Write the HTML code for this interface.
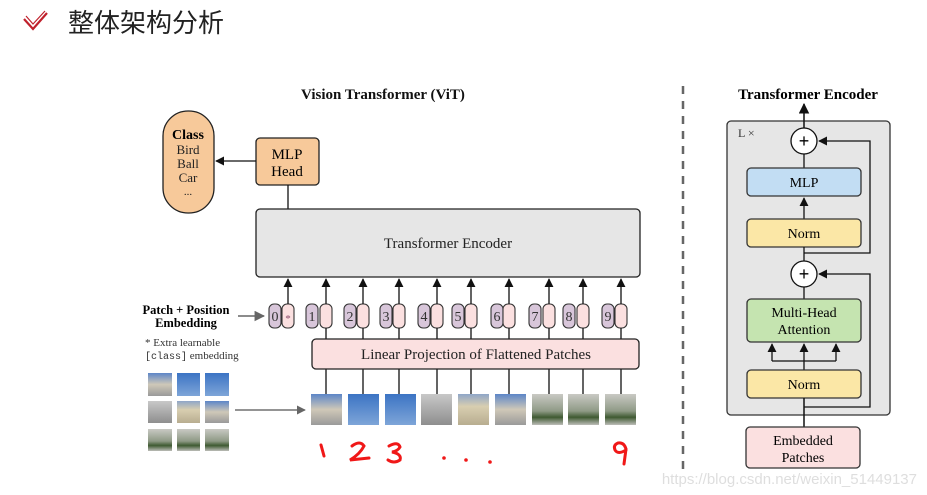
<!DOCTYPE html>
<html><head><meta charset="utf-8"><style>
html,body{margin:0;padding:0;background:#fff;}
svg{display:block;}
.s{font-family:"Liberation Serif",serif;}
</style></head><body>
<svg width="927" height="495" viewBox="0 0 927 495" xmlns="http://www.w3.org/2000/svg">
<defs>
<marker id="ar" viewBox="0 0 10 10" refX="9" refY="5" markerWidth="7" markerHeight="7" orient="auto"><path d="M0,0L10,5L0,10z" fill="#111"/></marker>
<marker id="ag" viewBox="0 0 10 10" refX="9" refY="5" markerWidth="7" markerHeight="7" orient="auto"><path d="M0,0L10,5L0,10z" fill="#666"/></marker>
<linearGradient id="sky" x1="0" y1="0" x2="0" y2="1"><stop offset="0" stop-color="#3c74c4"/><stop offset="1" stop-color="#7ea5d8"/></linearGradient>
<linearGradient id="bld" x1="0" y1="0" x2="0" y2="1"><stop offset="0" stop-color="#c8c8c8"/><stop offset="1" stop-color="#8e8e8e"/></linearGradient>
<linearGradient id="mix" x1="0" y1="0" x2="0" y2="1"><stop offset="0" stop-color="#5d86c8"/><stop offset="0.5" stop-color="#cfc8b8"/><stop offset="1" stop-color="#9a9a9a"/></linearGradient>
<linearGradient id="tan" x1="0" y1="0" x2="0" y2="1"><stop offset="0" stop-color="#8fa6c8"/><stop offset="0.4" stop-color="#d8ceb0"/><stop offset="1" stop-color="#b8ad90"/></linearGradient>
<linearGradient id="grn" x1="0" y1="0" x2="0" y2="1"><stop offset="0" stop-color="#c9c9c4"/><stop offset="0.55" stop-color="#8f9a86"/><stop offset="0.75" stop-color="#3f5a32"/><stop offset="1" stop-color="#bdbdb8"/></linearGradient>
</defs>

<path d="M24,19 L33,29 L47,13" fill="none" stroke="#c0212c" stroke-width="2.2"/>
<path d="M26,16 L33,24 L45,11" fill="none" stroke="#c0212c" stroke-width="1.2"/>
<text x="68" y="32" font-family="'Liberation Sans','Noto Sans CJK SC',sans-serif" font-size="26" fill="#222">整体架构分析</text>

<text class="s" x="383" y="99" text-anchor="middle" font-size="15" font-weight="bold" fill="#111">Vision Transformer (ViT)</text>

<rect x="163" y="111" width="51" height="102" rx="25" fill="#f7c99a" stroke="#222" stroke-width="1.3"/>
<text class="s" x="188" y="139" text-anchor="middle" font-size="14" font-weight="bold">Class</text>
<text class="s" x="188" y="154" text-anchor="middle" font-size="13" fill="#222">Bird</text>
<text class="s" x="188" y="168" text-anchor="middle" font-size="13" fill="#222">Ball</text>
<text class="s" x="188" y="182" text-anchor="middle" font-size="13" fill="#222">Car</text>
<text class="s" x="188" y="195" text-anchor="middle" font-size="11" fill="#222">...</text>

<rect x="256" y="138" width="63" height="47" rx="4" fill="#f7c99a" stroke="#222" stroke-width="1.3"/>
<text class="s" x="287" y="159" text-anchor="middle" font-size="15">MLP</text>
<text class="s" x="287" y="176" text-anchor="middle" font-size="15">Head</text>
<line x1="256" y1="161" x2="216" y2="161" stroke="#111" stroke-width="1.3" marker-end="url(#ar)"/>
<line x1="288" y1="185" x2="288" y2="209" stroke="#111" stroke-width="1.3"/>

<rect x="256" y="209" width="384" height="68" rx="4" fill="#e6e6e6" stroke="#222" stroke-width="1.3"/>
<text class="s" x="448" y="248" text-anchor="middle" font-size="15" fill="#222">Transformer Encoder</text>

<g stroke="#333" stroke-width="1.1">
<g fill="#d8c6da"><rect x="269" y="304" width="12" height="24" rx="5"/><rect x="306" y="304" width="12" height="24" rx="5"/><rect x="344" y="304" width="12" height="24" rx="5"/><rect x="380" y="304" width="12" height="24" rx="5"/><rect x="418" y="304" width="12" height="24" rx="5"/><rect x="452" y="304" width="12" height="24" rx="5"/><rect x="491" y="304" width="12" height="24" rx="5"/><rect x="529" y="304" width="12" height="24" rx="5"/><rect x="563" y="304" width="12" height="24" rx="5"/><rect x="602" y="304" width="12" height="24" rx="5"/></g>
<g fill="#fbe0e0"><rect x="282" y="304" width="12" height="24" rx="5"/><rect x="320" y="304" width="12" height="24" rx="5"/><rect x="357" y="304" width="12" height="24" rx="5"/><rect x="393" y="304" width="12" height="24" rx="5"/><rect x="431" y="304" width="12" height="24" rx="5"/><rect x="465" y="304" width="12" height="24" rx="5"/><rect x="503" y="304" width="12" height="24" rx="5"/><rect x="543" y="304" width="12" height="24" rx="5"/><rect x="577" y="304" width="12" height="24" rx="5"/><rect x="615" y="304" width="12" height="24" rx="5"/></g>
</g>
<g class="s" font-size="14" fill="#333" text-anchor="middle">
<text x="275" y="321">0</text><text x="312" y="321">1</text><text x="350" y="321">2</text><text x="386" y="321">3</text><text x="424" y="321">4</text><text x="458" y="321">5</text><text x="497" y="321">6</text><text x="535" y="321">7</text><text x="569" y="321">8</text><text x="608" y="321">9</text>
<text x="288" y="322" font-size="11" fill="#8a4a6a">*</text>
</g>
<g stroke="#111" stroke-width="1.3" marker-end="url(#ar)">
<line x1="288" y1="304" x2="288" y2="279"/><line x1="326" y1="304" x2="326" y2="279"/><line x1="363" y1="304" x2="363" y2="279"/><line x1="399" y1="304" x2="399" y2="279"/><line x1="437" y1="304" x2="437" y2="279"/><line x1="471" y1="304" x2="471" y2="279"/><line x1="509" y1="304" x2="509" y2="279"/><line x1="549" y1="304" x2="549" y2="279"/><line x1="583" y1="304" x2="583" y2="279"/><line x1="621" y1="304" x2="621" y2="279"/>
</g>
<g stroke="#111" stroke-width="1.3">
<line x1="326" y1="328" x2="326" y2="339"/><line x1="363" y1="328" x2="363" y2="339"/><line x1="399" y1="328" x2="399" y2="339"/><line x1="437" y1="328" x2="437" y2="339"/><line x1="471" y1="328" x2="471" y2="339"/><line x1="509" y1="328" x2="509" y2="339"/><line x1="549" y1="328" x2="549" y2="339"/><line x1="583" y1="328" x2="583" y2="339"/><line x1="621" y1="328" x2="621" y2="339"/>
<line x1="326" y1="369" x2="326" y2="394"/><line x1="363" y1="369" x2="363" y2="394"/><line x1="399" y1="369" x2="399" y2="394"/><line x1="437" y1="369" x2="437" y2="394"/><line x1="471" y1="369" x2="471" y2="394"/><line x1="509" y1="369" x2="509" y2="394"/><line x1="549" y1="369" x2="549" y2="394"/><line x1="583" y1="369" x2="583" y2="394"/><line x1="621" y1="369" x2="621" y2="394"/>
</g>

<rect x="312" y="339" width="327" height="30" rx="4" fill="#fbe0e0" stroke="#222" stroke-width="1.3"/>
<text class="s" x="476" y="359" text-anchor="middle" font-size="15" fill="#222">Linear Projection of Flattened Patches</text>

<text class="s" x="186" y="314" text-anchor="middle" font-size="12.5" font-weight="bold">Patch + Position</text>
<text class="s" x="186" y="327" text-anchor="middle" font-size="12.5" font-weight="bold">Embedding</text>
<line x1="238" y1="316" x2="264" y2="316" stroke="#666" stroke-width="1.5" marker-end="url(#ag)"/>
<text class="s" x="145" y="346" font-size="11" fill="#333">* Extra learnable</text>
<text x="145" y="359" font-size="10" fill="#333"><tspan font-family="'Liberation Mono',monospace">[class]</tspan><tspan font-family="'Liberation Serif',serif" font-size="11"> embedding</tspan></text>

<rect x="148" y="373" width="24" height="23" fill="url(#mix)"/><rect x="177" y="373" width="23" height="23" fill="url(#sky)"/><rect x="205" y="373" width="24" height="23" fill="url(#sky)"/>
<rect x="148" y="401" width="24" height="22" fill="url(#bld)"/><rect x="177" y="401" width="23" height="22" fill="url(#tan)"/><rect x="205" y="401" width="24" height="22" fill="url(#mix)"/>
<rect x="148" y="429" width="24" height="22" fill="url(#grn)"/><rect x="177" y="429" width="23" height="22" fill="url(#grn)"/><rect x="205" y="429" width="24" height="22" fill="url(#grn)"/>
<line x1="235" y1="410" x2="305" y2="410" stroke="#555" stroke-width="1.3" marker-end="url(#ag)"/>

<rect x="311" y="394" width="31" height="31" fill="url(#mix)"/>
<rect x="348" y="394" width="31" height="31" fill="url(#sky)"/>
<rect x="385" y="394" width="31" height="31" fill="url(#sky)"/>
<rect x="421" y="394" width="31" height="31" fill="url(#bld)"/>
<rect x="458" y="394" width="31" height="31" fill="url(#tan)"/>
<rect x="495" y="394" width="31" height="31" fill="url(#mix)"/>
<rect x="532" y="394" width="31" height="31" fill="url(#grn)"/>
<rect x="568" y="394" width="31" height="31" fill="url(#grn)"/>
<rect x="605" y="394" width="31" height="31" fill="url(#grn)"/>

<g stroke="#f01818" stroke-width="3" fill="none" stroke-linecap="round">
<path d="M321,445 L324,456"/>
<path d="M352,446 Q360,440 364,446 Q360,454 350,460 L369,458"/>
<path d="M389,446 Q398,441 400,447 Q398,451 392,452 Q402,454 400,460 Q394,464 388,460"/>
<path d="M626,449 Q624,442 618,443 Q613,445 615,450 Q618,455 626,450 M626,449 L624,464"/>
</g>
<g fill="#f01818"><circle cx="444" cy="458" r="1.8"/><circle cx="466" cy="460" r="1.8"/><circle cx="490" cy="462" r="1.8"/></g>

<line x1="683" y1="86" x2="683" y2="470" stroke="#666" stroke-width="2.5" stroke-dasharray="8,7"/>

<text class="s" x="808" y="99" text-anchor="middle" font-size="15" font-weight="bold">Transformer Encoder</text>
<rect x="727" y="121" width="163" height="294" rx="4" fill="#e6e6e6" stroke="#333" stroke-width="1.3"/>
<text class="s" x="738" y="137" font-size="12" fill="#333">L ×</text>

<line x1="804" y1="128" x2="804" y2="104" stroke="#111" stroke-width="1.5" marker-end="url(#ar)"/>
<circle cx="804" cy="141" r="13" fill="#fff" stroke="#111" stroke-width="1.3"/>
<text x="804" y="147" text-anchor="middle" font-family="'Liberation Sans',sans-serif" font-size="18">+</text>
<line x1="804" y1="154" x2="804" y2="168" stroke="#111" stroke-width="1.3"/>
<rect x="747" y="168" width="114" height="28" rx="4" fill="#c2ddf3" stroke="#333" stroke-width="1.3"/>
<text class="s" x="804" y="187" text-anchor="middle" font-size="14">MLP</text>
<line x1="804" y1="219" x2="804" y2="198" stroke="#111" stroke-width="1.3" marker-end="url(#ar)"/>
<rect x="747" y="219" width="114" height="28" rx="4" fill="#fbe7a6" stroke="#333" stroke-width="1.3"/>
<text class="s" x="804" y="238" text-anchor="middle" font-size="14">Norm</text>
<line x1="804" y1="247" x2="804" y2="261" stroke="#111" stroke-width="1.3"/>
<path d="M804,253 L870,253 L870,141 L819,141" fill="none" stroke="#111" stroke-width="1.3" marker-end="url(#ar)"/>
<circle cx="804" cy="274" r="13" fill="#fff" stroke="#111" stroke-width="1.3"/>
<text x="804" y="280" text-anchor="middle" font-family="'Liberation Sans',sans-serif" font-size="18">+</text>
<line x1="804" y1="287" x2="804" y2="299" stroke="#111" stroke-width="1.3"/>
<rect x="747" y="299" width="114" height="43" rx="4" fill="#c5e4b0" stroke="#333" stroke-width="1.3"/>
<text class="s" x="804" y="317" text-anchor="middle" font-size="14">Multi-Head</text>
<text class="s" x="804" y="334" text-anchor="middle" font-size="14">Attention</text>
<path d="M772,361 L836,361 M804,370 L804,361" fill="none" stroke="#111" stroke-width="1.3"/>
<g stroke="#111" stroke-width="1.3" marker-end="url(#ar)"><line x1="772" y1="361" x2="772" y2="344"/><line x1="804" y1="361" x2="804" y2="344"/><line x1="836" y1="361" x2="836" y2="344"/></g>
<rect x="747" y="370" width="114" height="28" rx="4" fill="#fbe7a6" stroke="#333" stroke-width="1.3"/>
<text class="s" x="804" y="389" text-anchor="middle" font-size="14">Norm</text>
<line x1="804" y1="398" x2="804" y2="427" stroke="#111" stroke-width="1.5"/>
<path d="M804,407 L870,407 L870,274 L819,274" fill="none" stroke="#111" stroke-width="1.3" marker-end="url(#ar)"/>
<rect x="746" y="427" width="114" height="41" rx="4" fill="#fbe0e0" stroke="#333" stroke-width="1.3"/>
<text class="s" x="803" y="445" text-anchor="middle" font-size="14">Embedded</text>
<text class="s" x="803" y="462" text-anchor="middle" font-size="14">Patches</text>

<text x="917" y="484" text-anchor="end" font-family="'Liberation Sans',sans-serif" font-size="15" fill="#dedede">https://blog.csdn.net/weixin_51449137</text>
</svg>
</body></html>
